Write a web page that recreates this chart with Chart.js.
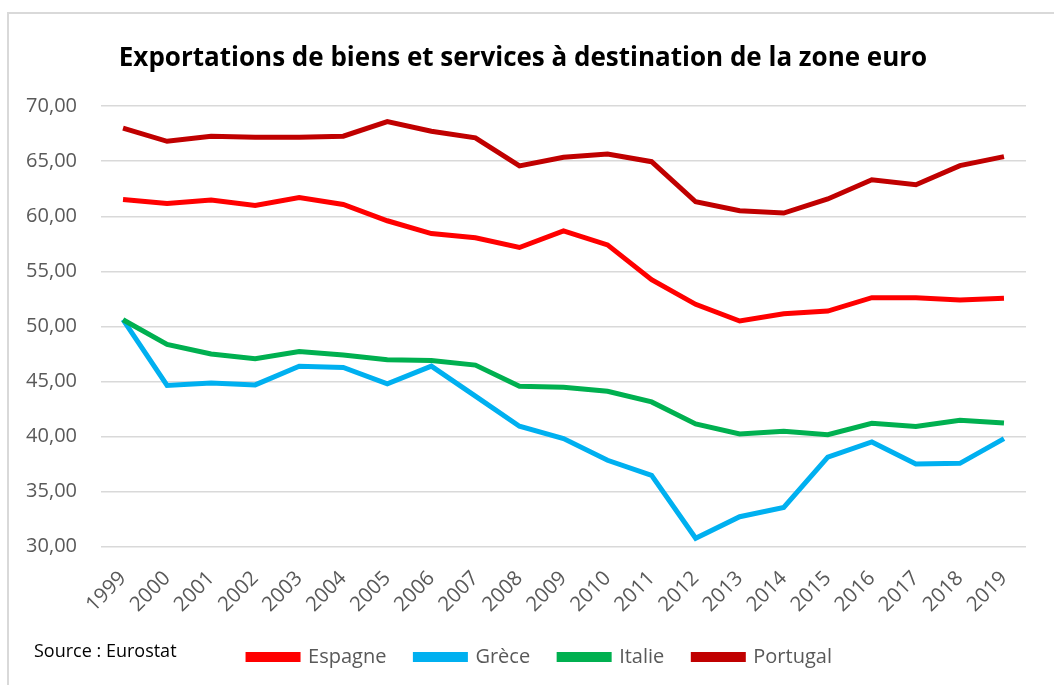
<!DOCTYPE html>
<html>
<head>
<meta charset="utf-8">
<script src="https://cdn.jsdelivr.net/npm/chart.js@4/dist/chart.umd.min.js"></script>
<style>
    body { margin: 0; background: #ffffff; }
    #frame { position: absolute; left: 7px; top: 12px; width: 1100px; height: 700px; border: 2px solid #d9d9d9; }
    #wrap { position: absolute; left: 0; top: 0; width: 1054px; height: 685px; }
</style>
</head>
<body>
<div id="frame"></div>
<div id="wrap"><canvas id="chart" width="1054" height="685"></canvas></div>
<script>
// Exportations de biens et services vers la zone euro (Eurostat)
var years = ['1999', '2000', '2001', '2002', '2003', '2004', '2005', '2006', '2007', '2008', '2009',
    '2010', '2011', '2012', '2013', '2014', '2015', '2016', '2017', '2018', '2019'];

var espagne = [61.53, 61.17, 61.47, 60.98, 61.71, 61.07, 59.59, 58.43, 58.04, 57.16, 58.68,
    57.40, 54.24, 52.00, 50.48, 51.15, 51.39, 52.60, 52.60, 52.40, 52.55];
var grece = [50.60, 44.63, 44.84, 44.68, 46.38, 46.27, 44.77, 46.38, 43.66, 40.92, 39.80,
    37.83, 36.46, 30.75, 32.70, 33.54, 38.12, 39.49, 37.49, 37.55, 39.80];
var italie = [50.60, 48.36, 47.48, 47.05, 47.72, 47.39, 46.96, 46.90, 46.48, 44.56, 44.47,
    44.10, 43.13, 41.13, 40.22, 40.46, 40.16, 41.19, 40.89, 41.47, 41.22];
var portugal = [68.00, 66.81, 67.27, 67.18, 67.18, 67.27, 68.60, 67.72, 67.12, 64.57, 65.36,
    65.66, 64.96, 61.32, 60.50, 60.29, 61.57, 63.32, 62.87, 64.60, 65.42];

var yMin = 30;
var yMax = 70;
var yStep = 5;

var FONT = '"Open Sans", sans-serif';
var GREY = '#595959';

function serie(label, data, color, order) {
    return {
        label: label,
        data: data,
        borderColor: color,
        backgroundColor: color,
        borderWidth: 5,
        pointRadius: 0,
        tension: 0,
        order: order
    };
}

// Source text bottom left + small shift of the legend to the right
var extrasPlugin = {
    id: 'extras',
    afterLayout: function (chart) {
        chart.legend.left += 17;
        chart.legend.right += 17;
    },
    afterDraw: function (chart) {
        var ctx = chart.ctx;
        ctx.save();
        ctx.font = '18px ' + FONT;
        ctx.fillStyle = '#000000';
        ctx.textBaseline = 'middle';
        ctx.fillText('Source : Eurostat', 34, 652);
        ctx.restore();
    }
};

new Chart(document.getElementById('chart'), {
    type: 'line',
    data: {
        labels: years,
        datasets: [
            serie('Espagne', espagne, '#ff0000', 4),
            serie('Grèce', grece, '#00b0f0', 3),
            serie('Italie', italie, '#00b050', 2),
            serie('Portugal', portugal, '#c00000', 1)
        ]
    },
    options: {
        responsive: false,
        animation: false,
        layout: { padding: { top: 0, left: 20, right: 28, bottom: 8 } },
        plugins: {
            title: {
                display: true,
                text: 'Exportations de biens et services à destination de la zone euro',
                color: '#000000',
                font: { family: FONT, size: 26, weight: 'bold' },
                padding: { top: 43, bottom: 32 }
            },
            legend: {
                position: 'bottom',
                labels: {
                    boxWidth: 50,
                    boxHeight: 5,
                    padding: 29,
                    color: GREY,
                    font: { family: FONT, size: 20 },
                    sort: function (a, b) { return a.datasetIndex - b.datasetIndex; }
                }
            },
            tooltip: { enabled: false }
        },
        scales: {
            x: {
                offset: true,
                afterFit: function (scale) { scale.height -= 11; },
                grid: { display: false },
                border: { display: false },
                ticks: {
                    color: GREY,
                    font: { family: FONT, size: 20.5 },
                    minRotation: 45,
                    maxRotation: 45,
                    padding: 12
                }
            },
            y: {
                min: yMin,
                max: yMax,
                afterFit: function (scale) { scale.width = 81; },
                grid: { color: '#d9d9d9', lineWidth: 1.5, drawTicks: false },
                border: { display: false },
                ticks: {
                    stepSize: yStep,
                    color: GREY,
                    padding: 24,
                    font: { family: FONT, size: 20 },
                    callback: function (value) { return value.toFixed(2).replace('.', ','); }
                }
            }
        }
    },
    plugins: [extrasPlugin]
});
</script>
</body>
</html>
